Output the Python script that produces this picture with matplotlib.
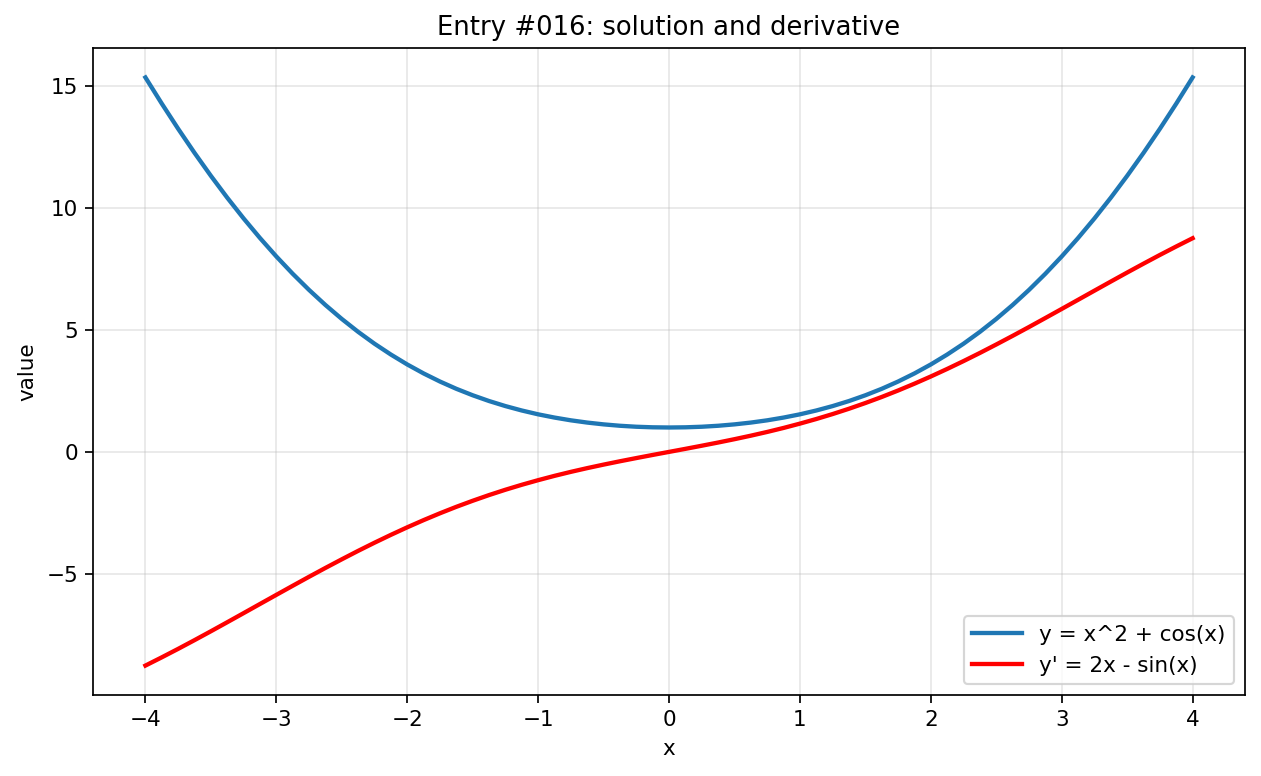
import numpy as np
import matplotlib
matplotlib.use('Agg')
import matplotlib.pyplot as plt

# values, step 0.125
x_vals = [-4.0, -3.875, -3.75, -3.625, -3.5, -3.375, -3.25, -3.125, -3.0, -2.875,
          -2.75, -2.625, -2.5, -2.375, -2.25, -2.125, -2.0, -1.875, -1.75, -1.625,
          -1.5, -1.375, -1.25, -1.125, -1.0, -0.875, -0.75, -0.625, -0.5, -0.375,
          -0.25, -0.125, 0.0, 0.125, 0.25, 0.375, 0.5, 0.625, 0.75, 0.875,
          1.0, 1.125, 1.25, 1.375, 1.5, 1.625, 1.75, 1.875, 2.0, 2.125,
          2.25, 2.375, 2.5, 2.625, 2.75, 2.875, 3.0, 3.125, 3.25, 3.375,
          3.5, 3.625, 3.75, 3.875, 4.0]
y_vals = [15.346, 14.273, 13.242, 12.255, 11.314, 10.418, 9.568, 8.766, 8.010, 7.301,
          6.638, 6.021, 5.449, 4.920, 4.434, 3.990, 3.584, 3.216, 2.884, 2.586,
          2.321, 2.085, 1.878, 1.697, 1.540, 1.407, 1.294, 1.202, 1.128, 1.071,
          1.031, 1.008, 1.000, 1.008, 1.031, 1.071, 1.128, 1.202, 1.294, 1.407,
          1.540, 1.697, 1.878, 2.085, 2.321, 2.586, 2.884, 3.216, 3.584, 3.990,
          4.434, 4.920, 5.449, 6.021, 6.638, 7.301, 8.010, 8.766, 9.568, 10.418,
          11.314, 12.255, 13.242, 14.273, 15.346]
dy_vals = [-8.757, -8.419, -8.072, -7.715, -7.351, -6.981, -6.608, -6.233, -5.859, -5.487,
           -5.118, -4.756, -4.402, -4.056, -3.722, -3.400, -3.091, -2.796, -2.516, -2.251,
           -2.003, -1.769, -1.551, -1.348, -1.159, -0.982, -0.818, -0.665, -0.521, -0.384,
           -0.253, -0.125, 0.000, 0.125, 0.253, 0.384, 0.521, 0.665, 0.818, 0.982,
           1.159, 1.348, 1.551, 1.769, 2.003, 2.251, 2.516, 2.796, 3.091, 3.400,
           3.722, 4.056, 4.402, 4.756, 5.118, 5.487, 5.859, 6.233, 6.608, 6.981,
           7.351, 7.715, 8.072, 8.419, 8.757]

dpi = 155
fig, ax = plt.subplots(figsize=(1261 / dpi, 776 / dpi), dpi=dpi)
ax.plot(x_vals, y_vals, color='#1f77b4', lw=2, label='y = x^2 + cos(x)')
ax.plot(x_vals, dy_vals, color='red', lw=2, label="y' = 2x - sin(x)")
ax.set_title('Entry #016: solution and derivative')
ax.set_xlabel('x')
ax.set_ylabel('value')
ax.grid(True, alpha=0.3)
ax.legend(loc='lower right', handlelength=2.3)
fig.subplots_adjust(left=0.0738, right=0.9873, top=0.9381, bottom=0.1044)
fig.savefig('out.png', dpi=dpi)
